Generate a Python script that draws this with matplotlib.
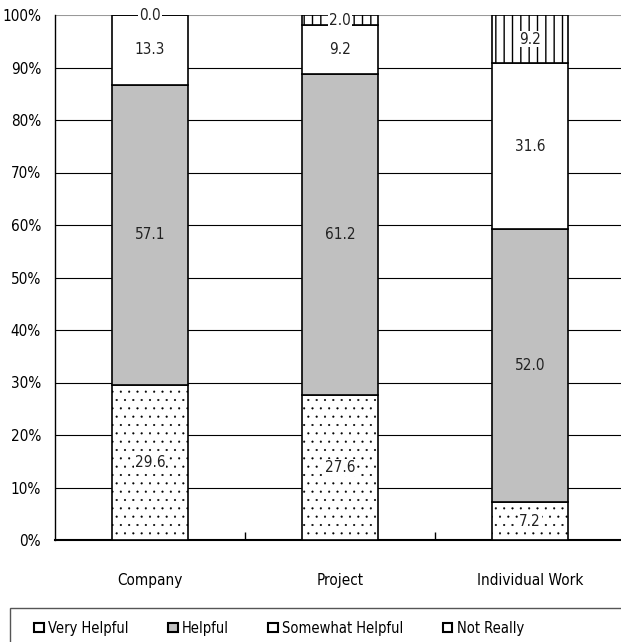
import matplotlib
matplotlib.use("Agg")
import matplotlib.pyplot as plt
from matplotlib.patches import Rectangle, Patch
import numpy as np

plt.rcParams['font.family'] = ['DejaVu Sans']
plt.rcParams['font.stretch'] = 'condensed'
plt.rcParams['hatch.linewidth'] = 0.5

categories = ["Company", "Project", "Individual Work"]
series_names = ["Very Helpful", "Helpful", "Somewhat Helpful", "Not Really"]
very_helpful = [29.6, 27.6, 7.2]
helpful = [57.1, 61.2, 52.0]
somewhat_helpful = [13.3, 9.2, 31.6]
not_really = [0.0, 2.0, 9.2]
ytick_labels = ["0%", "10%", "20%", "30%", "40%", "50%", "60%", "70%", "80%", "90%", "100%"]

series = [very_helpful, helpful, somewhat_helpful, not_really]
styles = [
    dict(facecolor="white", hatch="..", hlw=0.3, labelbg=True),
    dict(facecolor="#c0c0c0", hatch=None, hlw=0.5, labelbg=False),
    dict(facecolor="white", hatch=None, hlw=0.5, labelbg=True),
    dict(facecolor="white", hatch="||", hlw=1.0, labelbg=True),
]

W, H = 621, 642
fig = plt.figure(figsize=(W / 100, H / 100), dpi=100)
ax = fig.add_axes([55 / W, 1 - 540 / H, 570 / W, 525 / H])

x = np.arange(len(categories))
bottom = np.zeros(len(categories))
handles = []
for name, vals, st in zip(series_names, series, styles):
    vals = np.array(vals)
    bars = ax.bar(x, vals, width=0.4, bottom=bottom, facecolor=st["facecolor"],
                  edgecolor="black", linewidth=1.2, hatch=st["hatch"], zorder=3)
    for p in bars:
        if hasattr(p, "set_hatch_linewidth"):
            p.set_hatch_linewidth(st["hlw"])
    for xi, b, v in zip(x, bottom, vals):
        kw = {}
        if st["labelbg"]:
            kw["bbox"] = dict(facecolor="white", edgecolor="none", pad=0.5)
        ax.text(xi, b + v / 2, f"{v:.1f}", ha="center", va="center", fontsize=11,
                color="#222222", zorder=5, **kw)
    bottom = bottom + vals
    handles.append(Patch(facecolor=st["facecolor"], edgecolor="black", linewidth=1.5, label=name))

ax.set_xlim(-0.5, 2.5)
ax.set_ylim(0, 100)
ax.set_yticks(np.arange(0, 101, 10))
ax.set_yticklabels(ytick_labels, fontsize=11)
ax.tick_params(axis="y", length=0, pad=10)
ax.set_xticks(x)
ax.set_xticklabels(categories, fontsize=11)
ax.tick_params(axis="x", length=0, pad=24)
ax.set_xticks([0.5, 1.5], minor=True)
ax.tick_params(axis="x", which="minor", direction="in", length=6, width=1)

for yv in range(10, 100, 10):
    ax.axhline(yv, color="black", linewidth=0.8, zorder=1)
ax.axhline(100, color="#999999", linewidth=1.5, zorder=1)

for s in ["top", "right"]:
    ax.spines[s].set_visible(False)
ax.spines["left"].set_linewidth(1.0)
ax.spines["bottom"].set_linewidth(1.5)

# legend box
fig.patches.append(Rectangle((10 / W, -0.05), 1.0, (1 - 608 / H) + 0.05,
                             transform=fig.transFigure, facecolor="none",
                             edgecolor="#555555", linewidth=1.0))
fig.legend(handles=handles, loc="center left", bbox_to_anchor=(27 / W, 1 - 628 / H),
           ncol=4, frameon=False, fontsize=10.5, handlelength=0.65, handleheight=0.65,
           handletextpad=0.3, columnspacing=2.7, borderpad=0)

fig.savefig("out.png", dpi=100)
